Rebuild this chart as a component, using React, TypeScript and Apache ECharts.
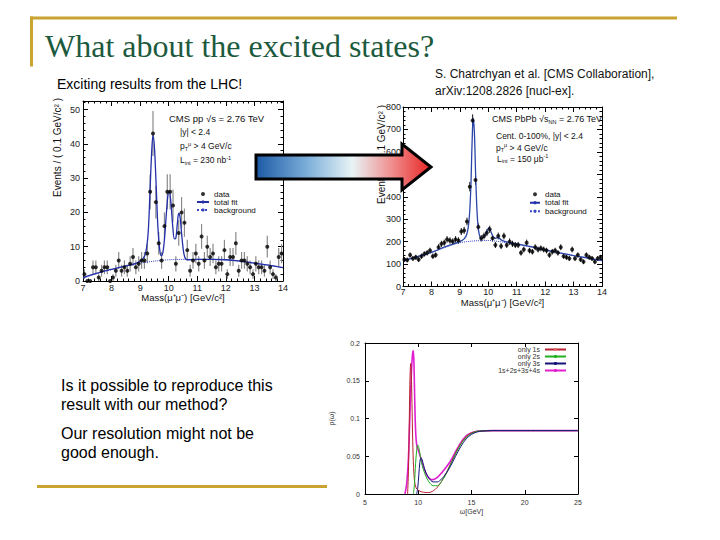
import React, { useEffect, useRef } from "react";
import * as echarts from "echarts";

// ---------- data ----------
const massBins = [
  7.05, 7.15, 7.25, 7.35, 7.45, 7.55, 7.65, 7.75, 7.85, 7.95,
  8.05, 8.15, 8.25, 8.35, 8.45, 8.55, 8.65, 8.75, 8.85, 8.95,
  9.05, 9.15, 9.25, 9.35, 9.45, 9.55, 9.65, 9.75, 9.85, 9.95,
  10.05, 10.15, 10.25, 10.35, 10.45, 10.55, 10.65, 10.75, 10.85, 10.95,
  11.05, 11.15, 11.25, 11.35, 11.45, 11.55, 11.65, 11.75, 11.85, 11.95,
  12.05, 12.15, 12.25, 12.35, 12.45, 12.55, 12.65, 12.75, 12.85, 12.95,
  13.05, 13.15, 13.25, 13.35, 13.45, 13.55, 13.65, 13.75, 13.85, 13.95,
];

const ppCounts = [
  2, 0, 0, 4, 4, 1, 3, 4, 4, 0,
  1, 3, 6, 3, 4, 3, 5, 7, 4, 5,
  6, 6, 8, 26, 43, 23, 11, 6, 16, 26,
  26, 22, 5, 14, 20, 17, 9, 3, 6, 8,
  5, 13, 6, 10, 7, 8, 4, 5, 5, 9,
  2, 7, 7, 11, 3, 6, 6, 5, 4, 2,
  5, 4, 4, 3, 10, 4, 2, 1, 7, 8,
];

const pbpbCounts = [
  120, 118, 140, 125, 130, 120, 135, 145, 150, 160,
  135, 140, 175, 190, 195, 210, 205, 200, 210, 205,
  245, 250, 290, 445, 740, 475, 265, 215, 225, 240,
  255, 215, 185, 225, 180, 225, 185, 200, 190, 185,
  185, 150, 165, 195, 160, 155, 175, 165, 170, 165,
  160, 140, 155, 160, 150, 175, 135, 130, 125, 165,
  125, 140, 120, 110, 140, 130, 125, 110, 125, 130,
];

const ppFit = [
  [7.0, 1.0], [7.5, 2.3], [8.0, 3.4], [8.5, 4.4], [8.9, 5.3], [9.1, 6.5], [9.2, 8.5],
  [9.28, 14], [9.34, 25], [9.4, 37], [9.45, 42.5], [9.5, 39], [9.56, 28], [9.62, 16],
  [9.68, 9.5], [9.74, 7.3], [9.8, 8.5], [9.86, 13], [9.92, 20], [9.98, 25.5], [10.02, 26],
  [10.08, 22.5], [10.14, 16], [10.2, 12.3], [10.25, 12.5], [10.3, 16.5], [10.35, 19.8],
  [10.4, 18.5], [10.46, 13], [10.52, 8.5], [10.58, 6.6], [10.65, 6.2], [11.0, 6.3],
  [11.5, 6.3], [12.0, 6.2], [12.5, 5.8], [13.0, 5.2], [13.5, 4.6], [14.0, 3.9],
];

const ppBackground = [
  [7.0, 0.8], [7.5, 2.2], [8.0, 3.3], [8.5, 4.3], [9.0, 5.2], [9.5, 5.8], [10.0, 6.2],
  [10.5, 6.3], [11.0, 6.3], [11.5, 6.3], [12.0, 6.2], [12.5, 5.8], [13.0, 5.2], [13.5, 4.6], [14.0, 3.9],
];

const pbpbFit = [
  [7.0, 115], [7.5, 133], [8.0, 152], [8.5, 178], [9.0, 200], [9.15, 212], [9.25, 235],
  [9.32, 290], [9.38, 420], [9.43, 640], [9.47, 750], [9.51, 690], [9.56, 480], [9.61, 320],
  [9.67, 240], [9.75, 215], [9.85, 222], [9.95, 245], [10.02, 262], [10.09, 245], [10.17, 222],
  [10.25, 215], [10.35, 218], [10.45, 208], [10.6, 200], [11.0, 190], [11.5, 178], [12.0, 163],
  [12.5, 150], [13.0, 138], [13.5, 127], [14.0, 115],
];

const pbpbBackground = [
  [7.0, 115], [7.5, 133], [8.0, 152], [8.5, 175], [9.0, 195], [9.5, 203], [10.0, 205],
  [10.5, 198], [11.0, 188], [11.5, 176], [12.0, 163], [12.5, 150], [13.0, 138], [13.5, 127], [14.0, 115],
];

const only1s = [
  [9.0, 0], [9.08, 0.03], [9.15, 0.09], [9.21, 0.145], [9.26, 0.168], [9.3, 0.173], [9.35, 0.16],
  [9.41, 0.12], [9.48, 0.07], [9.56, 0.035], [9.66, 0.016], [9.8, 0.008], [10.0, 0.005], [10.3, 0.003],
  [10.7, 0.002], [11.0, 0.002], [11.4, 0.004], [11.8, 0.009], [12.2, 0.017], [12.6, 0.027],
  [13.0, 0.039], [13.5, 0.054], [14.0, 0.067], [14.5, 0.076], [15.0, 0.081], [15.5, 0.083],
  [16.0, 0.0835], [17.0, 0.084], [20.0, 0.084], [25.0, 0.084],
];

const only2s = [
  [9.55, 0], [9.65, 0.015], [9.75, 0.04], [9.85, 0.058], [9.95, 0.065], [10.05, 0.062], [10.2, 0.05],
  [10.4, 0.036], [10.7, 0.024], [11.0, 0.016], [11.4, 0.011], [11.8, 0.011], [12.2, 0.017],
  [12.6, 0.026], [13.0, 0.038], [13.5, 0.053], [14.0, 0.066], [14.5, 0.075], [15.0, 0.08],
  [15.5, 0.083], [16.0, 0.0835], [17.0, 0.084], [20.0, 0.084], [25.0, 0.084],
];

const only3s = [
  [9.85, 0], [9.95, 0.008], [10.05, 0.025], [10.15, 0.042], [10.25, 0.048], [10.35, 0.046],
  [10.5, 0.038], [10.7, 0.029], [11.0, 0.021], [11.4, 0.016], [11.8, 0.016], [12.2, 0.02],
  [12.6, 0.027], [13.0, 0.036], [13.5, 0.05], [14.0, 0.063], [14.5, 0.073], [15.0, 0.079],
  [15.5, 0.082], [16.0, 0.0835], [17.0, 0.084], [20.0, 0.084], [25.0, 0.084],
];

const allStates = [
  [8.75, 0], [8.9, 0.012], [9.05, 0.04], [9.15, 0.075], [9.25, 0.12], [9.35, 0.158], [9.44, 0.182],
  [9.52, 0.19], [9.58, 0.18], [9.64, 0.145], [9.71, 0.1], [9.8, 0.072], [9.9, 0.062], [10.05, 0.056],
  [10.25, 0.047], [10.5, 0.035], [10.8, 0.025], [11.1, 0.02], [11.4, 0.019], [11.8, 0.022],
  [12.2, 0.028], [12.6, 0.035], [13.0, 0.043], [13.5, 0.056], [14.0, 0.068], [14.5, 0.077],
  [15.0, 0.081], [15.5, 0.083], [16.0, 0.0835], [17.0, 0.084], [20.0, 0.084], [25.0, 0.084],
];

const cmsLegendNames = ["data", "total fit", "background"];
const spectralLegendNames = ["only 1s", "only 2s", "only 3s", "1s+2s+3s+4s"];

// ---------- styling ----------
const SANS = '"Liberation Sans", Arial, Helvetica, sans-serif';
const SERIF = '"Liberation Serif", "Times New Roman", serif';
const GOLD = "#c9a431";
const TITLE_GREEN = "#1c5a3e";

function frameAxis(
  kind: "x" | "y",
  gridIndex: number,
  min: number,
  max: number,
  interval: number,
  position: string,
  opts: { labels?: boolean; minor?: number; tickLen?: number; minorLen?: number; label?: any; name?: string; nameGap?: number; nameStyle?: any }
) {
  const ax: any = {
    type: "value",
    gridIndex,
    min,
    max,
    interval,
    position,
    axisLine: { show: true, onZero: false, lineStyle: { color: "#000", width: 1 } },
    axisTick: { show: true, inside: true, length: opts.tickLen ?? 5, lineStyle: { color: "#000", width: 1 } },
    minorTick: {
      show: !!opts.minor,
      splitNumber: opts.minor || 5,
      length: opts.minorLen ?? 2.5,
      lineStyle: { color: "#000", width: 1 },
    },
    splitLine: { show: false },
    minorSplitLine: { show: false },
    axisLabel: opts.labels ? { show: true, ...opts.label } : { show: false },
  };
  if (opts.name) {
    ax.name = opts.name;
    ax.nameLocation = "middle";
    ax.nameGap = opts.nameGap;
    ax.nameTextStyle = opts.nameStyle;
  }
  return ax;
}

function errorBars(xi: number, yi: number, counts: number[], color: string, width: number) {
  return {
    type: "custom",
    xAxisIndex: xi,
    yAxisIndex: yi,
    clip: true,
    z: 3,
    data: massBins.map((m, i) => [m, counts[i]]),
    encode: { x: 0, y: 1 },
    renderItem: (params: any, api: any) => {
      const x = api.value(0);
      const y = api.value(1);
      const e = Math.sqrt(y);
      const top = api.coord([x, y + e]);
      const bot = api.coord([x, Math.max(y - e, 0)]);
      return {
        type: "line",
        shape: { x1: top[0], y1: top[1], x2: bot[0], y2: bot[1] },
        style: { stroke: color, lineWidth: width },
      };
    },
  };
}

const insetRich = {
  n: { fontSize: 8.5, fontFamily: SANS, fill: "#111", lineHeight: 11 },
  b: { fontSize: 5.5, fontFamily: SANS, fill: "#111", verticalAlign: "bottom" },
  t: { fontSize: 5.5, fontFamily: SANS, fill: "#111", verticalAlign: "top" },
};

function inset(x: number, y: number, text: string, size = 8.5) {
  return {
    type: "text",
    x,
    y,
    z: 50,
    style: {
      text,
      rich: { ...insetRich, n: { ...insetRich.n, fontSize: size } },
      font: `${size}px ${SANS}`,
      fill: "#111",
      align: "left",
      verticalAlign: "middle",
    },
  };
}

function plainText(x: number, y: number, text: string, font: string, fill = "#000") {
  return {
    type: "text",
    x,
    y,
    z: 50,
    style: { text, font, fill, align: "left", verticalAlign: "middle" },
  };
}

function buildOption(): any {
  const cmsLabel = { fontSize: 9, color: "#222", fontFamily: SANS };
  const specLabel = { fontSize: 7, color: "#333", fontFamily: SANS };

  const xAxis = [
    frameAxis("x", 0, 7, 14, 1, "bottom", {
      labels: true, minor: 5, label: { ...cmsLabel, margin: 2 },
      name: "Mass(μ⁺μ⁻) [GeV/c²]", nameGap: 11, nameStyle: { fontSize: 9.5, fontFamily: SANS, color: "#111" },
    }),
    frameAxis("x", 0, 7, 14, 1, "top", { minor: 5 }),
    frameAxis("x", 1, 7, 14, 1, "bottom", {
      labels: true, minor: 5, label: { ...cmsLabel, margin: 1 },
      name: "Mass(μ⁺μ⁻) [GeV/c²]", nameGap: 7, nameStyle: { fontSize: 9.5, fontFamily: SANS, color: "#111" },
    }),
    frameAxis("x", 1, 7, 14, 1, "top", { minor: 5 }),
    frameAxis("x", 2, 5, 25, 5, "bottom", {
      labels: true, tickLen: 4, label: { ...specLabel, margin: 5 },
      name: "ω[GeV]", nameGap: 14, nameStyle: { fontSize: 7, fontFamily: SANS, color: "#333" },
    }),
    frameAxis("x", 2, 5, 25, 5, "top", { tickLen: 4 }),
  ];

  const yAxis = [
    frameAxis("y", 0, 0, 52.5, 10, "left", {
      labels: true, minor: 5,
      label: { ...cmsLabel, margin: 3, formatter: (v: number) => (Math.abs(v % 10) < 1e-9 ? String(v) : "") },
    }),
    frameAxis("y", 0, 0, 52.5, 10, "right", { minor: 5 }),
    frameAxis("y", 1, 0, 800, 100, "left", { labels: true, minor: 5, label: { ...cmsLabel, margin: 2 } }),
    frameAxis("y", 1, 0, 800, 100, "right", { minor: 5 }),
    frameAxis("y", 2, 0, 0.2, 0.05, "left", {
      labels: true, tickLen: 4, label: { ...specLabel, margin: 5 },
      name: "ρ(ω)", nameGap: 30, nameStyle: { fontSize: 7, fontFamily: SANS, color: "#333" },
    }),
    frameAxis("y", 2, 0, 0.2, 0.05, "right", { tickLen: 4 }),
  ];

  const fitBlue = "#2330a8";
  const bgBlue = "#3a48c0";
  const fitBlue2 = "#2a44a8";

  const series: any[] = [
    // left CMS pp
    errorBars(0, 0, ppCounts, "#8a8a8a", 1.2),
    {
      type: "line", name: "background", xAxisIndex: 0, yAxisIndex: 0, data: ppBackground,
      symbol: "none", showSymbol: false, smooth: 0.3, z: 3,
      lineStyle: { color: bgBlue, width: 1, type: "dotted" }, itemStyle: { color: bgBlue },
    },
    {
      type: "line", name: "total fit", xAxisIndex: 0, yAxisIndex: 0, data: ppFit,
      symbol: "none", showSymbol: false, smooth: 0.35, z: 4,
      lineStyle: { color: fitBlue, width: 1.3 }, itemStyle: { color: fitBlue },
    },
    {
      type: "scatter", name: "data", xAxisIndex: 0, yAxisIndex: 0,
      data: massBins.map((m, i) => [m, ppCounts[i]]),
      symbol: "circle", symbolSize: 4, itemStyle: { color: "#000" }, z: 5,
    },
    // right CMS PbPb
    errorBars(2, 2, pbpbCounts, "#111", 1),
    {
      type: "line", name: "background", xAxisIndex: 2, yAxisIndex: 2, data: pbpbBackground,
      symbol: "none", showSymbol: false, smooth: 0.3, z: 3,
      lineStyle: { color: bgBlue, width: 1, type: "dotted" }, itemStyle: { color: bgBlue },
    },
    {
      type: "line", name: "total fit", xAxisIndex: 2, yAxisIndex: 2, data: pbpbFit,
      symbol: "none", showSymbol: false, smooth: 0.35, z: 4,
      lineStyle: { color: fitBlue2, width: 1.3 }, itemStyle: { color: fitBlue2 },
    },
    {
      type: "scatter", name: "data", xAxisIndex: 2, yAxisIndex: 2,
      data: massBins.map((m, i) => [m, pbpbCounts[i]]),
      symbol: "circle", symbolSize: 4, itemStyle: { color: "#000" }, z: 5,
    },
    // spectral functions
    {
      type: "line", name: "1s+2s+3s+4s", xAxisIndex: 4, yAxisIndex: 4, data: allStates,
      symbol: "none", showSymbol: false, smooth: 0.3, clip: true, z: 2,
      lineStyle: { color: "#e020d0", width: 1.6 }, itemStyle: { color: "#e020d0" },
    },
    {
      type: "line", name: "only 1s", xAxisIndex: 4, yAxisIndex: 4, data: only1s,
      symbol: "none", showSymbol: false, smooth: 0.3, clip: true, z: 3,
      lineStyle: { color: "#b8202e", width: 1 }, itemStyle: { color: "#e06a6a" },
    },
    {
      type: "line", name: "only 2s", xAxisIndex: 4, yAxisIndex: 4, data: only2s,
      symbol: "none", showSymbol: false, smooth: 0.3, clip: true, z: 3,
      lineStyle: { color: "#22b022", width: 1 }, itemStyle: { color: "#22b022" },
    },
    {
      type: "line", name: "only 3s", xAxisIndex: 4, yAxisIndex: 4, data: only3s,
      symbol: "none", showSymbol: false, smooth: 0.3, clip: true, z: 3,
      lineStyle: { color: "#141478", width: 1 }, itemStyle: { color: "#141478" },
    },
  ];

  const legend = [
    {
      left: 196, top: 190, orient: "vertical", padding: 0, itemGap: 0, itemWidth: 12, itemHeight: 4,
      selectedMode: false, data: cmsLegendNames,
      textStyle: { fontSize: 8, lineHeight: 7.5, fontFamily: SANS, color: "#111" },
    },
    {
      left: 529, top: 190, orient: "vertical", padding: 0, itemGap: 0, itemWidth: 10, itemHeight: 4,
      selectedMode: false, data: cmsLegendNames,
      textStyle: { fontSize: 8, lineHeight: 8.5, fontFamily: SANS, color: "#111" },
    },
    {
      right: 153, top: 346, orient: "vertical", align: "right", padding: 0, itemGap: 0,
      itemWidth: 21, itemHeight: 4, selectedMode: false, data: spectralLegendNames,
      textStyle: { fontSize: 7, lineHeight: 6, fontFamily: SANS, color: "#333" },
    },
  ];

  const arrowGradient = new echarts.graphic.LinearGradient(0, 0, 1, 0, [
    { offset: 0, color: "#1c5aa6" },
    { offset: 0.3, color: "#7fb0da" },
    { offset: 0.55, color: "#e8f4f6" },
    { offset: 0.78, color: "#f08c8c" },
    { offset: 1, color: "#e82424" },
  ]);

  const graphic = [
    { type: "rect", z: 40, shape: { x: 30, y: 16.5, width: 647, height: 3 }, style: { fill: GOLD } },
    { type: "rect", z: 40, shape: { x: 30, y: 16.5, width: 3, height: 50 }, style: { fill: GOLD } },
    { type: "rect", z: 40, shape: { x: 37, y: 485, width: 290, height: 3 }, style: { fill: GOLD } },
    plainText(45, 45.5, "What about the excited states?", `32px ${SERIF}`, TITLE_GREEN),
    plainText(57, 84, "Exciting results from the LHC!", `14px ${SANS}`),
    plainText(435, 74, "S. Chatrchyan et al. [CMS Collaboration],", `12px ${SANS}`, "#111"),
    plainText(435, 91, "arXiv:1208.2826 [nucl-ex].", `12px ${SANS}`, "#111"),
    plainText(61, 385, "Is it possible to reproduce this", `16px ${SANS}`),
    plainText(61, 404, "result with our method?", `16px ${SANS}`),
    plainText(61, 433, "Our resolution might not be", `16px ${SANS}`),
    plainText(61, 452, "good enough.", `16px ${SANS}`),
    // CMS y-axis titles
    {
      type: "text", x: 57, y: 98, rotation: Math.PI / 2, z: 50,
      style: { text: "Events / ( 0.1 GeV/c² )", font: `10px ${SANS}`, fill: "#111", align: "right", verticalAlign: "middle" },
    },
    {
      type: "text", x: 381, y: 105, rotation: Math.PI / 2, z: 50,
      style: { text: "Events / ( 0.1 GeV/c² )", font: `10px ${SANS}`, fill: "#111", align: "right", verticalAlign: "middle" },
    },
    // insets, left
    inset(169, 118, "CMS pp √s = 2.76 TeV", 9.5),
    inset(180, 132, "|y| < 2.4"),
    inset(180, 146, "{n|p}{b|T}{t|μ}{n| > 4 GeV/c}"),
    inset(180, 160, "{n|L}{b|int}{n| = 230 nb}{t|-1}"),
    // insets, right
    inset(492, 119, "{n|CMS PbPb √s}{b|NN}{n| = 2.76 TeV}", 9),
    inset(496, 135.5, "Cent. 0-100%, |y| < 2.4"),
    inset(496, 147.5, "{n|p}{b|T}{t|μ}{n| > 4 GeV/c}"),
    inset(497, 158.5, "{n|L}{b|int}{n| = 150 μb}{t|-1}"),
    // arrow
    {
      type: "polygon", z: 100,
      shape: { points: [[256, 155], [402, 155], [402, 144], [431, 167], [402, 190], [402, 179], [256, 179]] },
      style: { fill: arrowGradient, stroke: "#000", lineWidth: 3, lineJoin: "miter" },
    },
  ];

  return {
    animation: false,
    backgroundColor: "#ffffff",
    grid: [
      { left: 83, top: 101, width: 200, height: 180 },
      { left: 403, top: 107, width: 199, height: 179.5 },
      { left: 365, top: 343, width: 213, height: 151 },
    ],
    xAxis,
    yAxis,
    legend,
    series,
    graphic,
  };
}

export default function App() {
  const ref = useRef<HTMLDivElement>(null);
  useEffect(() => {
    if (!ref.current) return;
    const chart = echarts.init(ref.current, undefined, { renderer: "svg" });
    chart.setOption(buildOption());
    return () => {
      chart.dispose();
    };
  }, []);
  return (
    <div
      ref={ref}
      style={{ position: "absolute", left: 0, top: 0, width: 720, height: 540, background: "#fff" }}
    />
  );
}
